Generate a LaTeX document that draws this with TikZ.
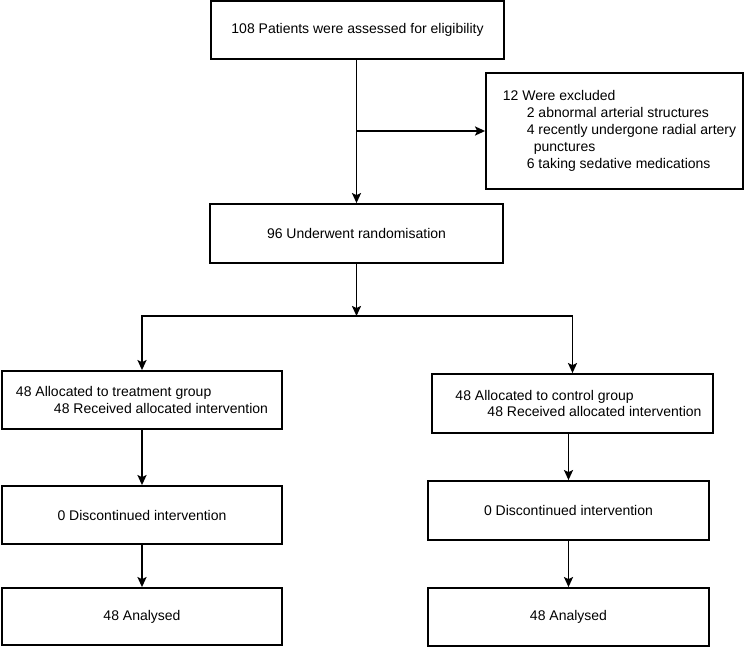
\documentclass[tikz,border=0pt]{standalone}
\usepackage{fontspec}
\setmainfont{Liberation Sans}
\usepackage{tikz}
\usetikzlibrary{arrows.meta,calc}
\tikzset{
  flowbox/.style={draw, line width=1.8pt, rectangle, inner sep=0pt, align=left,
    font=\fontsize{14pt}{16.9pt}\selectfont},
  arr/.style={line width=1.8pt, -{Stealth[length=10pt,width=9pt,inset=2pt]}}
}
\def\flowbox(#1,#2,#3,#4,#5,#6){
  \node[flowbox, minimum width=#4, minimum height=#5] (#1) at (#2,#3) {#6};
}

\begin{document}
\begin{tikzpicture}[x=1pt, y=-1pt]
\useasboundingbox (0,0) rectangle (744,647);
\flowbox(top,357.5,30,293pt,58pt,108 Patients were assessed for eligibility)
\flowbox(excl,614.5,131,257pt,116pt,\hspace*{10pt}12 Were excluded\\\hspace*{34pt}2 abnormal arterial structures\\\hspace*{34pt}4 recently undergone radial artery\\\hspace*{41pt}punctures\\\hspace*{34pt}6 taking sedative medications)
\flowbox(rand,356.5,233.5,293pt,59pt,96 Underwent randomisation)
\flowbox(lalloc,142,400,280pt,58pt,48 Allocated to treatment group\\\hspace*{38pt}48 Received allocated intervention)
\flowbox(ralloc,572.5,403.5,281pt,59pt,\hspace*{12pt}48 Allocated to control group\\\hspace*{44pt}48 Received allocated intervention)
\flowbox(ldisc,142,515,280pt,58pt,0 Discontinued intervention)
\flowbox(rdisc,568.5,510.5,281pt,59pt,0 Discontinued intervention)
\flowbox(lanal,142,616.5,280pt,57pt,48 Analysed)
\flowbox(ranal,568.5,617,281pt,58pt,48 Analysed)
\coordinate (split) at (356.5,316);
\draw[arr] (rand.north |- top.south) -- (rand.north);
\draw[arr] (rand.north |- excl.west) -- (excl.west);
\draw[arr] (rand.south) -- (split);
\draw[arr] (split) -| (lalloc);
\draw[arr] (split) -| (ralloc);
\draw[arr] (lalloc) -- (ldisc);
\draw[arr] (rdisc.north |- ralloc.south) -- (rdisc.north);
\draw[arr] (ldisc) -- (lanal);
\draw[arr] (rdisc) -- (ranal);
\end{tikzpicture}
\end{document}
